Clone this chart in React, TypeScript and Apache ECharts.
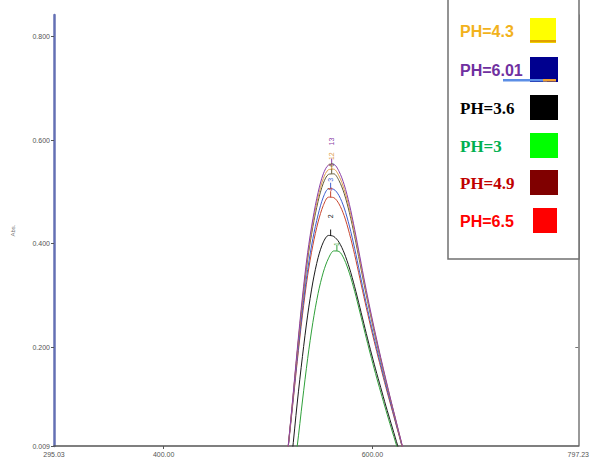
import React, { useEffect, useRef } from "react";
import * as echarts from "echarts";

// Wavelength samples (nm)
const wavelengths = [513, 518, 523, 528, 533, 538, 543, 548, 553, 558, 563, 568, 573, 578, 583, 588, 593, 598, 603, 608, 613, 618, 623, 628, 633, 638];

// Absorbance
const absPurple = [-0.13, -0.02, 0.085, 0.195, 0.297, 0.383, 0.448, 0.499, 0.535, 0.552, 0.553, 0.54, 0.514, 0.476, 0.428, 0.375, 0.322, 0.272, 0.225, 0.18, 0.137, 0.095, 0.055, 0.015, -0.025, -0.065];
const absOrange = [-0.13, -0.02, 0.083, 0.191, 0.291, 0.376, 0.44, 0.49, 0.526, 0.543, 0.544, 0.531, 0.505, 0.468, 0.421, 0.369, 0.317, 0.268, 0.222, 0.178, 0.135, 0.094, 0.054, 0.014, -0.026, -0.066];
const absOlive = [-0.13, -0.02, 0.082, 0.188, 0.286, 0.37, 0.433, 0.482, 0.517, 0.534, 0.535, 0.522, 0.497, 0.46, 0.414, 0.363, 0.312, 0.264, 0.218, 0.175, 0.133, 0.093, 0.053, 0.013, -0.027, -0.067];
const absBlue = [-0.12, -0.02, 0.078, 0.178, 0.271, 0.35, 0.41, 0.456, 0.49, 0.506, 0.505, 0.493, 0.469, 0.434, 0.391, 0.343, 0.295, 0.25, 0.207, 0.166, 0.126, 0.088, 0.05, 0.012, -0.027, -0.066];
const absRed = [-0.12, -0.02, 0.075, 0.172, 0.262, 0.339, 0.397, 0.442, 0.474, 0.49, 0.489, 0.477, 0.454, 0.42, 0.379, 0.333, 0.287, 0.243, 0.201, 0.161, 0.122, 0.085, 0.048, 0.011, -0.027, -0.065];
const absBlack = [-0.2, -0.09, -0.008, 0.092, 0.182, 0.262, 0.326, 0.373, 0.403, 0.416, 0.414, 0.403, 0.382, 0.353, 0.317, 0.277, 0.236, 0.196, 0.158, 0.122, 0.086, 0.052, 0.018, -0.016, -0.05, -0.085];
const absGreen = [-0.25, -0.15, -0.06, 0.009, 0.096, 0.178, 0.248, 0.304, 0.345, 0.372, 0.386, 0.385, 0.37, 0.343, 0.308, 0.268, 0.227, 0.187, 0.149, 0.113, 0.078, 0.044, 0.011, -0.022, -0.055, -0.09];

const spectra = [absGreen, absBlack, absRed, absBlue, absOlive, absOrange, absPurple];
const peakLabels = ["1", "2", "4", "3", "6", "12", "13"];
const peakWavelengths = [566, 560, 560, 560, 561, 561, 561];
const curveColors = ["#2fa03a", "#1a1a1a", "#c8452e", "#3f5fd0", "#5f5a3a", "#e0a050", "#8a3fa8"];
const peakLabelLift = [4, 16, 5, 6, 6, 10, 20];

// Axis ticks
const yTickValues = [0.009, 0.2, 0.4, 0.6, 0.8];
const yInnerTicks = [0.2, 0.4, 0.6, 0.8];
const xTickValues = [295.03, 400, 600, 797.23];
const xMajorTicks = [400, 600];

// Legend
const legendLabels = ["PH=4.3", "PH=6.01", "PH=3.6", "PH=3", "PH=4.9", "PH=6.5"];
const legendTextColors = ["#f2b21c", "#7030a0", "#000000", "#00b050", "#c00000", "#ff0000"];
const legendSwatchColors = ["#ffff00", "#00008f", "#000000", "#00ff00", "#800000", "#ff0000"];
const legendSerif = [false, false, true, true, true, false];

export default function App() {
  const ref = useRef<HTMLDivElement>(null);

  useEffect(() => {
    if (!ref.current) return;
    const chart = echarts.init(ref.current, undefined, { renderer: "svg" });

    const series = spectra.map((vals, i) => ({
      type: "line",
      data: wavelengths.map((w, j) => [w, vals[j]]),
      smooth: 0.3,
      showSymbol: false,
      clip: true,
      lineStyle: { width: 1, color: curveColors[i] },
      itemStyle: { color: curveColors[i] },
      markPoint: {
        symbol: "rect",
        symbolSize: [1, 6],
        symbolOffset: [0, -3],
        silent: true,
        itemStyle: { color: curveColors[i] },
        data: [{ coord: [peakWavelengths[i], Math.max(...vals)] }],
        label: {
          show: true,
          formatter: peakLabels[i],
          position: "inside",
          offset: [peakLabelLift[i], 0],
          rotate: 90,
          fontSize: 7,
          color: curveColors[i],
          fontFamily: "Liberation Sans",
        },
      },
    }));

    const rowY = [31, 70, 108, 146, 183, 221];
    const graphics: any[] = [
      {
        type: "rect",
        z: 100,
        shape: { x: 448, y: -5, width: 131, height: 264 },
        style: { fill: "#ffffff", stroke: "#707070", lineWidth: 1.5 },
      },
    ];
    legendLabels.forEach((lab, i) => {
      graphics.push({
        type: "text",
        z: 101,
        x: 460,
        y: rowY[i],
        style: {
          text: lab,
          fill: legendTextColors[i],
          fontSize: legendSerif[i] ? 17 : 16,
          fontWeight: "bold",
          fontFamily: legendSerif[i] ? "Liberation Serif" : "Liberation Sans",
          verticalAlign: "middle",
        },
      });
      const sx = i === 5 ? 533 : 530;
      const sw = i === 0 ? 26 : i === 5 ? 24 : 28;
      graphics.push({
        type: "rect",
        z: 101,
        shape: { x: sx, y: rowY[i] - 13, width: sw, height: 25 },
        style: { fill: legendSwatchColors[i] },
      });
    });
    graphics.push(
      { type: "rect", z: 102, shape: { x: 530, y: 40, width: 26, height: 2.5 }, style: { fill: "#e0a000" } },
      { type: "rect", z: 102, shape: { x: 503, y: 79, width: 44, height: 2.5 }, style: { fill: "#5b8ee6" } },
      { type: "rect", z: 102, shape: { x: 543, y: 79, width: 13, height: 2.5 }, style: { fill: "#f0a030" } }
    );

    chart.setOption({
      animation: false,
      backgroundColor: "#ffffff",
      grid: { left: 54, right: 10, top: 15, bottom: 18 },
      xAxis: {
        type: "value",
        min: 295.03,
        max: 797.23,
        axisLine: { show: true, lineStyle: { color: "#555", width: 1.5 } },
        axisTick: { show: true, customValues: xMajorTicks, length: 3, lineStyle: { color: "#555" } },
        axisLabel: {
          customValues: xTickValues,
          formatter: (v: number) => v.toFixed(2),
          fontSize: 7,
          color: "#555",
          margin: 5,
          fontFamily: "Liberation Sans",
        },
        splitLine: { show: false },
      },
      yAxis: [
        {
          type: "value",
          min: 0.009,
          max: 0.842,
          position: "left",
          axisLine: { show: true, lineStyle: { color: "#6470b4", width: 2.5 } },
          axisTick: { show: true, customValues: yTickValues, length: 3, lineStyle: { color: "#555" } },
          axisLabel: {
            customValues: yTickValues,
            formatter: (v: number) => v.toFixed(3),
            fontSize: 7,
            color: "#555",
            margin: 4,
            fontFamily: "Liberation Sans",
          },
          splitLine: { show: false },
          name: "Abs.",
          nameLocation: "middle",
          nameGap: 38,
          nameTextStyle: { fontSize: 6, color: "#777", fontFamily: "Liberation Sans" },
        },
        {
          type: "value",
          min: 0.009,
          max: 0.842,
          position: "right",
          axisLine: { show: true, lineStyle: { color: "#777", width: 1.5 } },
          axisTick: { show: true, inside: true, customValues: yInnerTicks, length: 3, lineStyle: { color: "#777" } },
          axisLabel: { show: false },
          splitLine: { show: false },
        },
      ],
      series,
      graphic: graphics,
    });

    return () => chart.dispose();
  }, []);

  return (
    <div
      ref={ref}
      style={{ position: "absolute", left: 0, top: 0, width: 592, height: 464, background: "#fff" }}
    />
  );
}
